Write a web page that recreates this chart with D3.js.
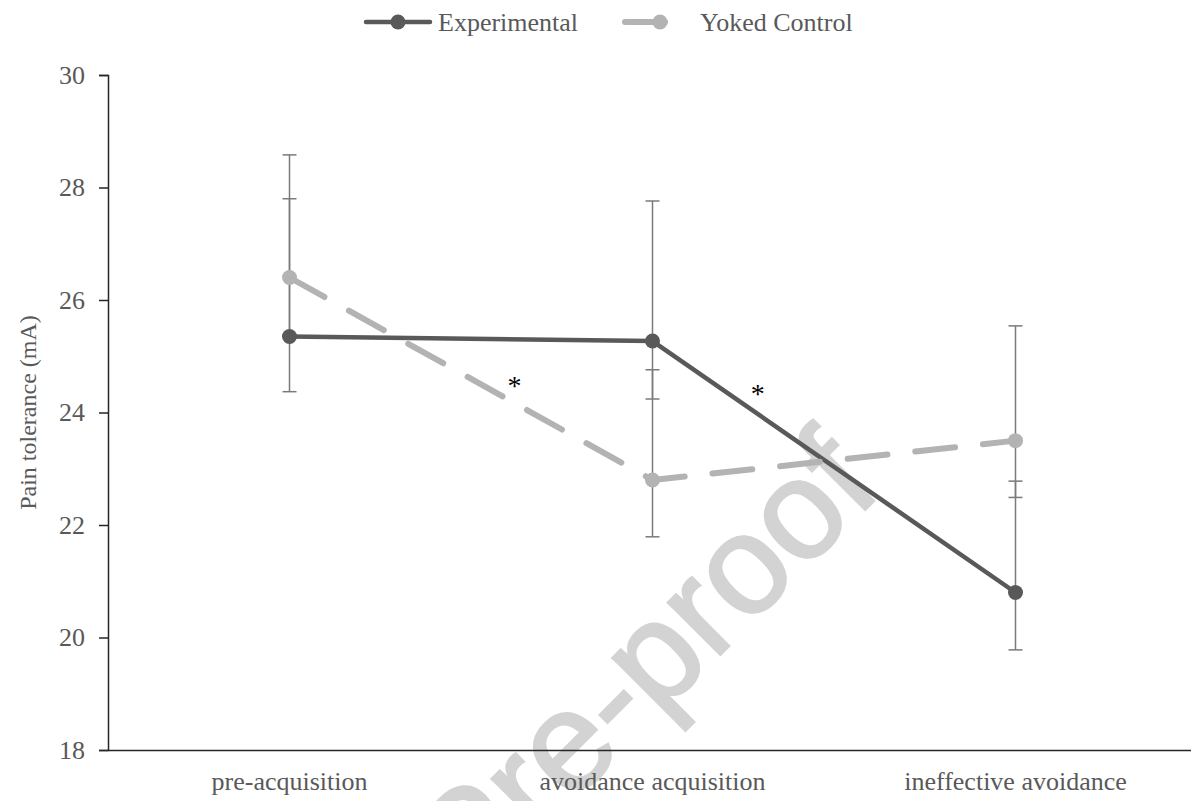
<!DOCTYPE html>
<html>
<head>
<meta charset="utf-8">
<script src="https://cdn.jsdelivr.net/npm/d3@7/dist/d3.min.js"></script>
<style>
  html, body { margin: 0; padding: 0; background: #fff; }
  svg { display: block; }
</style>
</head>
<body>
<svg id="chart" width="1191" height="801"></svg>
<script>
// Phases of the experiment
const categories = ["pre-acquisition", "avoidance acquisition", "ineffective avoidance"];

// Mean pain tolerance (mA) per group
const experimental = [25.35, 25.27, 20.80];
const yokedControl = [26.40, 22.80, 23.50];

// Error bar extents (plus / minus)
const experimentalPlus  = [2.45, 2.49, 1.98];
const experimentalMinus = [0.98, 1.03, 1.02];
const yokedPlus  = [2.18, 1.96, 2.04];
const yokedMinus = [1.02, 1.01, 1.01];

// Y axis ticks
const yTicks = [18, 20, 22, 24, 26, 28, 30];

// Significance markers: placed between two phases (position as fraction from the first)
const significance = [
  { from: 0, frac: 0.62, value: 24.56 },
  { from: 1, frac: 0.29, value: 24.41 }
];

const svg = d3.select("#chart");
const serif = "'Liberation Serif', 'Times New Roman', serif";
const textGray = "#595959";

const x = d3.scaleBand().domain(categories).range([108, 1197]);
const cx = c => x(c) + x.bandwidth() / 2;
const y = d3.scaleLinear().domain([18, 30]).range([750, 75]);

// Watermark behind the plot
svg.append("text")
  .attr("transform", "translate(884,491) rotate(-45)")
  .attr("text-anchor", "end")
  .attr("font-family", "'Liberation Sans', Arial, sans-serif")
  .attr("font-size", 140)
  .attr("fill", "#d3d3d3")
  .attr("stroke", "#d3d3d3")
  .attr("stroke-width", 2.5)
  .text("Journal Pre-proof");

// Y axis
const yAxis = d3.axisLeft(y).tickValues(yTicks).tickSize(9).tickPadding(14);
const gy = svg.append("g").attr("transform", "translate(108,0)").call(yAxis);
gy.select(".domain").attr("stroke", "#262626").attr("stroke-width", 1.5);
gy.selectAll(".tick line").attr("stroke", "#262626").attr("stroke-width", 1.5);
gy.selectAll(".tick text")
  .attr("font-family", serif).attr("font-size", 26).attr("fill", textGray);

// X axis
const xAxis = d3.axisBottom(x).tickSize(0).tickPadding(22);
const gx = svg.append("g").attr("transform", "translate(0,750)").call(xAxis);
gx.select(".domain").attr("stroke", "#262626").attr("stroke-width", 1.5);
gx.selectAll(".tick text")
  .attr("font-family", serif).attr("font-size", 26).attr("fill", textGray);

// Y axis title
svg.append("text")
  .attr("transform", `translate(36,${(75 + 750) / 2}) rotate(-90)`)
  .attr("text-anchor", "middle")
  .attr("font-family", serif).attr("font-size", 24).attr("fill", textGray)
  .text("Pain tolerance (mA)");

const series = [
  { name: "Experimental", values: experimental, plus: experimentalPlus, minus: experimentalMinus,
    color: "#595959", width: 4.5, dash: null },
  { name: "Yoked Control", values: yokedControl, plus: yokedPlus, minus: yokedMinus,
    color: "#b3b3b3", width: 6, dash: "40,28" }
];

// Error bars
const capHalf = 7;
series.forEach(s => {
  const g = svg.append("g").attr("stroke", "#7a7a7a").attr("stroke-width", 1.5);
  categories.forEach((c, i) => {
    const px = cx(c);
    const top = y(s.values[i] + s.plus[i]);
    const bot = y(s.values[i] - s.minus[i]);
    g.append("line").attr("x1", px).attr("x2", px).attr("y1", top).attr("y2", bot);
    g.append("line").attr("x1", px - capHalf).attr("x2", px + capHalf).attr("y1", top).attr("y2", top);
    g.append("line").attr("x1", px - capHalf).attr("x2", px + capHalf).attr("y1", bot).attr("y2", bot);
  });
});

// Series lines
const line = d3.line().x((d, i) => cx(categories[i])).y(d => y(d));
series.forEach(s => {
  svg.append("path")
    .datum(s.values)
    .attr("d", line)
    .attr("fill", "none")
    .attr("stroke", s.color)
    .attr("stroke-width", s.width)
    .attr("stroke-linecap", "round")
    .attr("stroke-linejoin", "round")
    .attr("stroke-dasharray", s.dash);
});

// Markers
series.forEach(s => {
  svg.append("g").selectAll("circle")
    .data(s.values)
    .join("circle")
    .attr("cx", (d, i) => cx(categories[i]))
    .attr("cy", d => y(d))
    .attr("r", 7.5)
    .attr("fill", s.color);
});

// Significance asterisks
svg.append("g").selectAll("text")
  .data(significance)
  .join("text")
  .attr("x", d => cx(categories[d.from]) + d.frac * x.step())
  .attr("y", d => y(d.value))
  .attr("dy", "0.5em")
  .attr("text-anchor", "middle")
  .attr("font-family", serif).attr("font-size", 28).attr("fill", "#000")
  .text("*");

// Legend
const legend = [
  { s: series[0], x1: 366, x2: 430, mx: 398, tx: 438 },
  { s: series[1], x1: 625, x2: 688, mx: 660, tx: 700 }
];
const lg = svg.append("g").attr("transform", "translate(0,22)");
legend.forEach(l => {
  lg.append("line")
    .attr("x1", l.x1).attr("x2", l.x2).attr("y1", 0).attr("y2", 0)
    .attr("stroke", l.s.color).attr("stroke-width", l.s.width)
    .attr("stroke-linecap", "round")
    .attr("stroke-dasharray", l.s.dash);
  lg.append("circle").attr("cx", l.mx).attr("cy", 0).attr("r", 7.5).attr("fill", l.s.color);
  lg.append("text")
    .attr("x", l.tx).attr("y", 0).attr("dy", "0.33em")
    .attr("font-family", serif).attr("font-size", 26).attr("fill", textGray)
    .text(l.s.name);
});
</script>
</body>
</html>
